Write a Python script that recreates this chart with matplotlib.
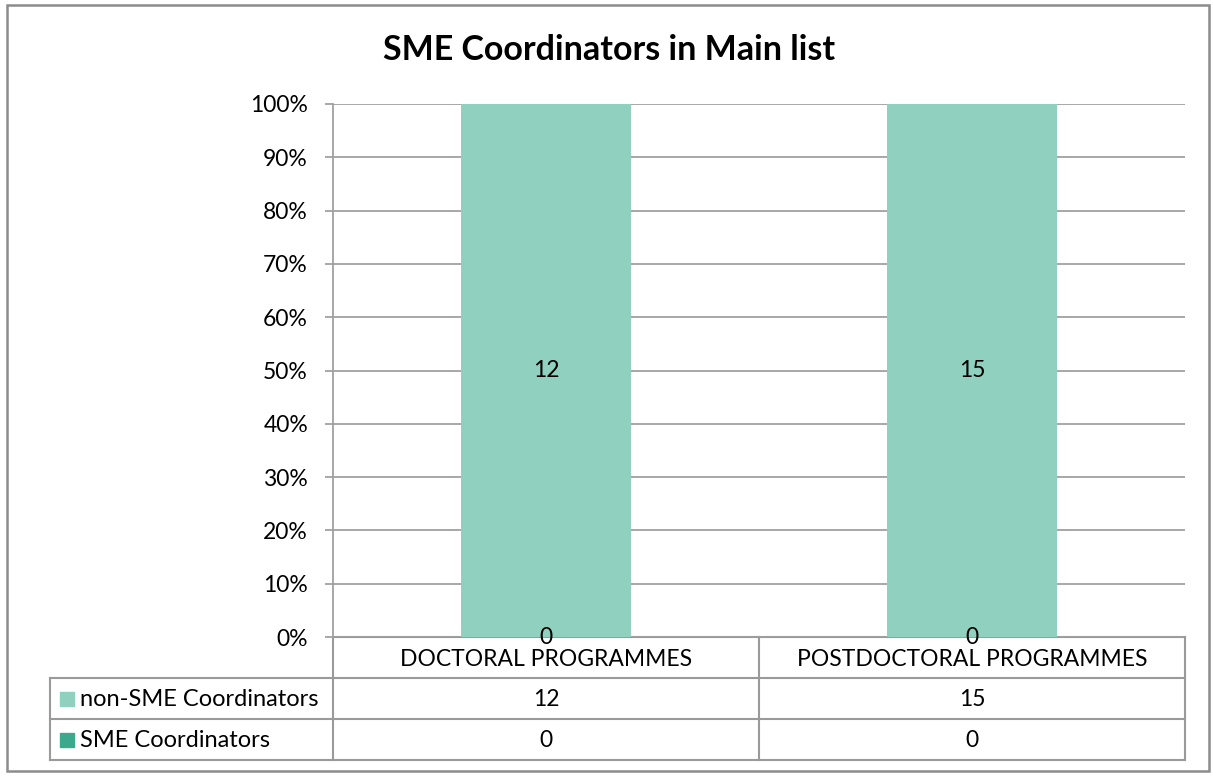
import matplotlib
matplotlib.use("Agg")
import matplotlib.pyplot as plt
from matplotlib.patches import Rectangle
import numpy as np

categories = ["DOCTORAL PROGRAMMES", "POSTDOCTORAL PROGRAMMES"]
series_names = ["non-SME Coordinators", "SME Coordinators"]
non_sme = [12, 15]
sme = [0, 0]
yticks = [0, 10, 20, 30, 40, 50, 60, 70, 80, 90, 100]
title = "SME Coordinators in Main list"

col_non = "#8FD0BE"
col_sme = "#3AA98C"
grid_col = "#A0A0A0"
FONT = "Lato"
FS = 16.5

W, H = 1213, 776
fig = plt.figure(figsize=(W / 100, H / 100), dpi=100)

def fx(x):
    return x / W

def fy(y):
    return 1 - y / H

# Main plot axes
L, R, T, B = 333, 1185, 104, 637
ax = fig.add_axes([fx(L), fy(B), fx(R) - fx(L), fy(T) - fy(B)])
n = len(categories)
x = np.arange(n) + 0.5
tot = np.array(non_sme) + np.array(sme)
p_sme = np.array(sme) / tot * 100
p_non = np.array(non_sme) / tot * 100

ax.bar(x, p_sme, width=0.4, color=col_sme, zorder=3)
ax.bar(x, p_non, width=0.4, bottom=p_sme, color=col_non, zorder=3)
for i in range(n):
    ax.text(x[i], p_sme[i] + p_non[i] / 2, str(non_sme[i]), ha="center", va="center",
            fontsize=FS, family=FONT, zorder=5)
    ax.text(x[i], p_sme[i] / 2, str(sme[i]), ha="center", va="center",
            fontsize=FS, family=FONT, zorder=5)

ax.set_xlim(0, n)
ax.set_ylim(0, 100)
ax.set_yticks(yticks)
ax.set_yticklabels([f"{v}%" for v in yticks], family=FONT, fontsize=FS)
ax.yaxis.grid(True, color=grid_col, linewidth=1.3, zorder=0)
ax.tick_params(axis="y", length=6, color=grid_col, width=1.3, pad=12)
ax.set_xticks([])
for s in ["top", "right", "bottom"]:
    ax.spines[s].set_visible(False)
ax.spines["left"].set_color(grid_col)
ax.spines["left"].set_linewidth(1.3)
ax.set_axisbelow(True)
ax.patch.set_alpha(0)

# Overlay for table and frame
ov = fig.add_axes([0, 0, 1, 1], zorder=-1)
ov.set_xlim(0, W)
ov.set_ylim(H, 0)
ov.axis("off")
ov.add_patch(Rectangle((7, 5), 1202, 766, fill=False, edgecolor="#8C8C8C", linewidth=1.8))

lc = "#9A9A9A"
lw = 1.5
rows_y = [637, 678, 719, 760]
col_x = [333, 759, 1185]
leg_x = 50
for yy in rows_y[:1]:
    ov.plot([L, R], [yy, yy], color=lc, lw=lw)
for yy in rows_y[1:]:
    ov.plot([leg_x, R], [yy, yy], color=lc, lw=lw)
for xx in col_x:
    ov.plot([xx, xx], [rows_y[0], rows_y[3]], color=lc, lw=lw)
ov.plot([leg_x, leg_x], [rows_y[1], rows_y[3]], color=lc, lw=lw)

for i, c in enumerate(categories):
    cx = (col_x[i] + col_x[i + 1]) / 2
    ov.text(cx, (rows_y[0] + rows_y[1]) / 2 + 2, c, ha="center", va="center",
            fontsize=FS, family=FONT)
    ov.text(cx, (rows_y[1] + rows_y[2]) / 2 + 1, str(non_sme[i]), ha="center", va="center",
            fontsize=FS, family=FONT)
    ov.text(cx, (rows_y[2] + rows_y[3]) / 2 + 1, str(sme[i]), ha="center", va="center",
            fontsize=FS, family=FONT)

for j, (name, col) in enumerate(zip(series_names, [col_non, col_sme])):
    cy = (rows_y[j + 1] + rows_y[j + 2]) / 2
    ov.add_patch(Rectangle((60, cy - 7), 14, 14, color=col))
    ov.text(80, cy + 1, name, ha="left", va="center", fontsize=17, family=FONT)

fig.text(fx(609), fy(50), title, ha="center", va="center", fontsize=24.5,
         fontweight="bold", family=FONT)

fig.savefig("out.png", dpi=100)
